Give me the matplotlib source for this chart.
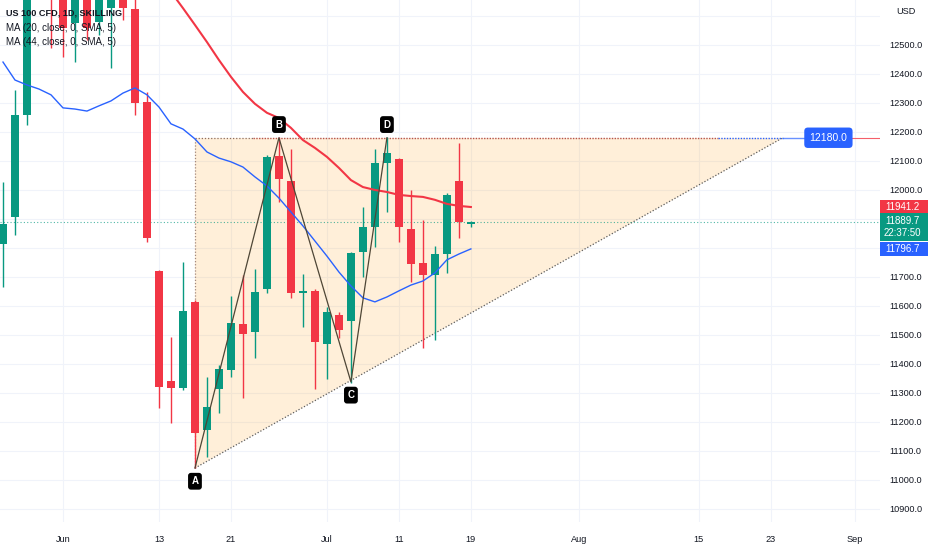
import numpy as np
import matplotlib.pyplot as plt
import matplotlib.transforms as mtransforms
from matplotlib.patches import Polygon, Rectangle

plt.rcParams['font.family'] = ['Liberation Sans', 'DejaVu Sans']

# bar index 0 = 1 Jun, first visible bar is index -5
first_bar = -5
opens = [11814, 11907, 12259, 12700, 12860, 12720, 12576, 12740, 12579, 12628,
         12700, 12624, 12303, 11721, 11341, 11317, 11614, 11172, 11314, 11379,
         11538, 11510, 11659, 12117, 12031, 11645, 11652, 11469, 11569, 11548,
         11786, 11872, 12093, 12107, 11866, 11748, 11707, 11779, 12031, 11883]
highs = [12028, 12345, 12760, 12900, 12900, 12760, 12750, 12760, 12720, 12730,
         12720, 12680, 12338, 11725, 11493, 11752, 11620, 11355, 11397, 11634,
         11707, 11728, 12121, 12183, 12141, 11710, 11660, 11597, 11579, 11786,
         11941, 12141, 12183, 12110, 12000, 11897, 11807, 11990, 12162, 11893]
lows = [11666, 11845, 12224, 12680, 12490, 12459, 12441, 12517, 12534, 12421,
        12586, 12259, 11821, 11248, 11197, 11310, 11041, 11079, 11231, 11355,
        11283, 11421, 11645, 11959, 11628, 11528, 11314, 11348, 11490, 11334,
        11700, 11803, 11924, 11821, 11683, 11455, 11483, 11714, 11834, 11872]
closes = [11883, 12259, 12700, 12850, 12690, 12559, 12720, 12559, 12700, 12700,
          12628, 12300, 11834, 11321, 11317, 11583, 11162, 11252, 11383, 11541,
          11503, 11648, 12114, 12038, 11645, 11652, 11476, 11579, 11517, 11783,
          11872, 12093, 12128, 11872, 11745, 11707, 11779, 11983, 11890, 11889.7]

# moving averages as shown on the chart
ma20 = [12441, 12379, 12362, 12348, 12328, 12283, 12279, 12272, 12290, 12307,
        12334, 12352, 12328, 12286, 12228, 12210, 12176, 12131, 12110, 12097,
        12079, 12045, 12014, 11972, 11924, 11876, 11824, 11772, 11717, 11669,
        11628, 11614, 11631, 11652, 11672, 11686, 11714, 11759, 11779, 11796.7]
ma44_first = 8
ma44 = [12724, 12683, 12627, 12569, 12510, 12448, 12390, 12338, 12297, 12266,
        12248, 12214, 12172, 12145, 12114, 12076, 12034, 12010, 12000, 11993,
        11983, 11979, 11976, 11966, 11952, 11945, 11941.2]

tick_bars = [0, 8, 14, 22, 28, 34, 43, 53, 59, 66]
tick_labels = ['Jun', '13', '21', 'Jul', '11', '19', 'Aug', '15', '23', 'Sep']
price_ticks = list(range(10900, 12600, 100))
hidden_ticks = [11800, 11900]  # covered by the price tags

abcd_bars = [11, 18, 24, 27]
abcd_prices = [11041, 12180, 11338, 12180]
abcd_names = ['A', 'B', 'C', 'D']
apex_bar = 60
resistance = 12180.0
last_price = 11889.7
countdown = '22:37:50'

GREEN = '#089981'
RED = '#f23645'
BLUE = '#2962ff'
TXT = '#131722'

fig = plt.figure(figsize=(9.32, 5.5), dpi=100)
ax = fig.add_axes([0, 28 / 550, 880 / 932, 522 / 550])
ax.set_xlim(-5.25, 68.1)
ax.set_ylim(10855, 12655)
ppx = (12655 - 10855) / 522  # price units per pixel

x = np.arange(first_bar, first_bar + len(opens))
o = np.array(opens, dtype=float)
c = np.array(closes, dtype=float)
cols = [GREEN if cc >= oo else RED for oo, cc in zip(o, c)]

# pattern fill (triangle)
tri = Polygon([(abcd_bars[0], abcd_prices[0]), (abcd_bars[0], resistance), (apex_bar, resistance)],
              closed=True, facecolor='#ff9800', alpha=0.15, edgecolor='none', zorder=1)
ax.add_patch(tri)
ax.plot([abcd_bars[0], abcd_bars[0]], [abcd_prices[0], resistance], ls=(0, (1, 1.5)), color='#a1887f', lw=0.9, zorder=1.5)
ax.plot([abcd_bars[0], apex_bar], [abcd_prices[0], resistance], ls=(0, (1, 1.5)), color='#5d5d5d', lw=0.9, zorder=1.5)
ax.plot([abcd_bars[0], 15.8], [resistance, resistance], ls=(0, (1, 1.5)), color='#8d6e63', lw=0.9, zorder=1.5)
ax.plot([15.8, 54.6], [resistance, resistance], ls=(0, (1, 1)), color='#b5544e', lw=1.0, zorder=1.5)
ax.plot([54.6, apex_bar], [resistance, resistance], ls=(0, (1, 1)), color=BLUE, lw=1.0, zorder=1.5)
ax.plot([apex_bar, 62], [resistance, resistance], color=BLUE, lw=1.0, alpha=0.7, zorder=1.5)
ax.plot([65, 68.1], [resistance, resistance], color=RED, lw=0.8, alpha=0.8, zorder=1.5)

# grid
for p in range(10900, 12700, 100):
    ax.axhline(p, color='#f0f3fa', lw=0.8, zorder=0)
for b in tick_bars:
    ax.axvline(b, color='#f0f3fa', lw=0.8, zorder=0)

# current price line
ax.axhline(last_price, color=GREEN, ls=(0, (1, 2)), lw=0.8, alpha=0.7, zorder=1.6)

# candles
ax.vlines(x, lows, highs, colors=cols, lw=1, zorder=2)
body = np.maximum(np.abs(c - o), 5)
ax.bar(x, body, bottom=np.minimum(o, c), width=0.72, color=cols, zorder=3)

# moving averages
ax.plot(x, ma20, color=BLUE, lw=1.0, zorder=4)
ax.plot(np.arange(ma44_first, ma44_first + len(ma44)), ma44, color=RED, lw=1.5, zorder=4)

# ABCD pattern
ax.plot(abcd_bars, abcd_prices, color='#4e4636', lw=0.9, zorder=5)
for b, p, n in zip(abcd_bars, abcd_prices, abcd_names):
    dy = 9.5 if p > 11800 else -9.5
    ax.annotate(n, (b, p), xytext=(0, dy), textcoords='offset points', ha='center', va='center',
                color='white', fontsize=7, fontweight='bold', zorder=6,
                bbox=dict(boxstyle='round,pad=0.35,rounding_size=0.3', fc='black', ec='none'))

# resistance label
ax.text(63.8, resistance, f'{resistance:.1f}', ha='center', va='center', color='white', fontsize=7.5, zorder=6,
        bbox=dict(boxstyle='round,pad=0.5,rounding_size=0.35', fc=BLUE, ec='none'))

# axes styling
for s in ax.spines.values():
    s.set_visible(False)
ax.yaxis.tick_right()
ax.set_yticks(price_ticks)
ax.set_yticklabels(['' if v in hidden_ticks else f'{v:.1f}' for v in price_ticks])
ax.tick_params(axis='y', length=0, pad=7, labelsize=6.6, labelcolor=TXT)
ax.set_xticks(tick_bars)
ax.set_xticklabels(tick_labels)
ax.tick_params(axis='x', length=0, pad=9, labelsize=6.6, labelcolor=TXT)

# price tags on the scale
tr = mtransforms.blended_transform_factory(ax.transAxes, ax.transData)
tag_w = 45 / 880
tag_x = 1 + tag_w / 2
tags = [(ma44[-1], 7.5 * ppx, 7.5 * ppx, RED, f'{ma44[-1]:.1f}'),
        (last_price, 9 * ppx, 19 * ppx, GREEN, f'{last_price:.1f}\n{countdown}'),
        (ma20[-1], 7 * ppx, 7 * ppx, BLUE, f'{ma20[-1]:.1f}')]
for p, up, down, col, label in tags:
    ax.add_patch(Rectangle((1.0, p - down), tag_w + 0.003, up + down, transform=tr, fc=col, ec='none',
                           clip_on=False, zorder=7))
    ax.text(tag_x, p - (down - up) / 2, label, transform=tr, ha='center', va='center', color='white',
            fontsize=7, linespacing=1.15, clip_on=False, zorder=8)

fig.text(896 / 932, 1 - 11 / 550, 'USD', ha='left', va='center', fontsize=6.6, color=TXT)

# legend text
fig.text(6 / 932, 1 - 13 / 550, 'US 100 CFD, 1D, SKILLING', fontsize=6.6, fontweight='bold', color=TXT, va='center')
fig.text(6 / 932, 1 - 28 / 550, 'MA (20, close, 0, SMA, 5)', fontsize=7, color=TXT, va='center')
fig.text(6 / 932, 1 - 42 / 550, 'MA (44, close, 0, SMA, 5)', fontsize=7, color=TXT, va='center')

fig.savefig('out.png', dpi=100)
